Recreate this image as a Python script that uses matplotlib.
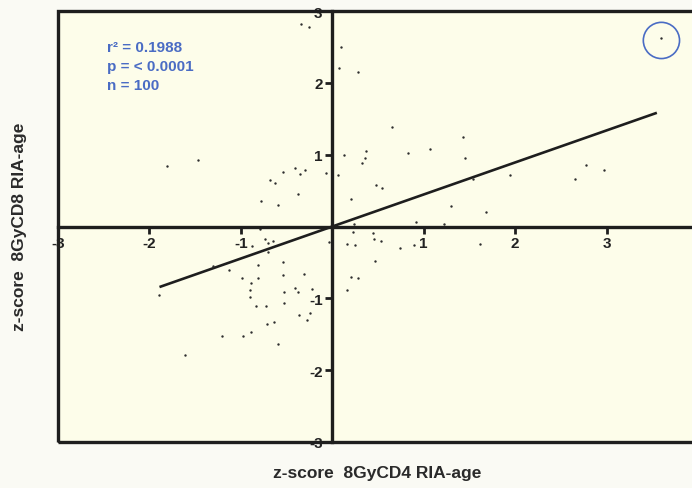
import numpy as np
import matplotlib.pyplot as plt

plt.rcParams['font.family'] = ['Liberation Sans', 'DejaVu Sans']

# z-scores for each donor (CD4 on x, CD8 on y)
cd4_z = [-1.81, -1.47, -0.54, -0.41, -0.35, -0.30, -0.07, -0.68, -0.63, -0.37,
         -0.78, -0.59, -0.34, -0.26,
         -0.79, -0.74, -0.70, -0.65, -0.88, -0.70, -0.04, -1.89, -1.30, -1.13,
         -0.99, -0.89, -0.90, -0.90, -0.81, -0.81, -0.54, -0.54, -0.31, -0.53,
         -0.41, -0.37, -0.22, -0.83, -0.73, -0.53, -0.36, -0.24, -0.28, -0.71,
         -0.64, -1.21, -0.98, -0.89, -0.59, -1.61,
         0.10, 0.07, 0.28, 0.65, 1.43, 0.13, 0.37, 0.36, 0.32, 0.83,
         1.07, 1.45, 0.06, 0.48, 0.54, 1.54, 1.94, 0.20, 1.30, 1.68,
         0.24, 0.92, 1.22, 2.65, 2.78, 2.97, 3.60,
         0.23, 0.44, 0.46, 0.53, 0.16, 0.25, 0.74, 0.89, 1.62, 0.47,
         0.20, 0.28, 0.16]
cd8_z = [0.84, 0.93, 0.76, 0.81, 0.73, 0.79, 0.75, 0.65, 0.61, 0.45,
         0.36, 0.30, 2.82, 2.78,
         -0.03, -0.17, -0.23, -0.20, -0.27, -0.35, -0.21, -0.95, -0.55, -0.61,
         -0.71, -0.78, -0.89, -0.98, -0.54, -0.71, -0.49, -0.67, -0.66, -0.91,
         -0.86, -0.91, -0.87, -1.10, -1.10, -1.07, -1.23, -1.21, -1.30, -1.36,
         -1.33, -1.53, -1.53, -1.47, -1.64, -1.79,
         2.50, 2.21, 2.15, 1.38, 1.24, 0.99, 1.05, 0.95, 0.89, 1.03,
         1.08, 0.96, 0.71, 0.58, 0.54, 0.66, 0.71, 0.38, 0.28, 0.20,
         0.04, 0.06, 0.04, 0.66, 0.85, 0.78, 2.63,
         -0.08, -0.09, -0.17, -0.20, -0.25, -0.26, -0.30, -0.26, -0.24, -0.48,
         -0.70, -0.72, -0.89]

r_squared = 0.1988
p_text = "< 0.0001"
n_donors = 100
outlier = 76  # index of the circled donor

ticks = [-3, -2, -1, 0, 1, 2, 3]
tick_labels = ['-3', '-2', '-1', '', '1', '2', '3']

x = np.array(cd4_z)
y = np.array(cd8_z)

fig = plt.figure(figsize=(6.92, 4.89), dpi=100, facecolor='#fafaf4')
ax = fig.add_axes([58 / 692, 46 / 489, 640 / 692, 431 / 489])
ax.set_facecolor('#fdfdea')

ax.set_xlim(-3, 4)
ax.set_ylim(-3, 3)

# frame around the plot
frame = plt.Rectangle((0, 0), 1, 1, transform=ax.transAxes, fill=False,
                      lw=2.4, edgecolor='#1e1e1e', clip_on=False, zorder=5)
ax.add_patch(frame)

# axes crossing at the origin
for side in ['top', 'right']:
    ax.spines[side].set_visible(False)
ax.spines['left'].set_position(('data', 0))
ax.spines['bottom'].set_position(('data', 0))
for side in ['left', 'bottom']:
    ax.spines[side].set_linewidth(2.4)
    ax.spines[side].set_color('#1e1e1e')
    ax.spines[side].set_zorder(4)

ax.set_xticks(ticks)
ax.set_xticklabels(tick_labels)
ax.set_yticks(ticks)
ax.set_yticklabels(tick_labels)
ax.tick_params(direction='out', length=5, width=2, color='#1e1e1e',
               labelsize=11, pad=2)
for lab in ax.get_xticklabels() + ax.get_yticklabels():
    lab.set_fontweight('bold')
    lab.set_color('#222222')

# regression line: slope equals r for z-scores
slope = np.sqrt(r_squared)
xl = np.array([x.min(), x.max() - 0.05])
ax.plot(xl, slope * xl, color='#1e1e1e', lw=1.9, zorder=3,
        solid_capstyle='butt')

ax.scatter(x, y, s=3, color='#2e2e2e', linewidths=0, zorder=3)
ax.scatter([x[outlier]], [y[outlier] - 0.04], s=680, facecolors='none',
           edgecolors='#4a6cc4', linewidths=1.2, zorder=3)

stats = "r\u00b2 = %.4f\np = %s\nn = %d" % (r_squared, p_text, n_donors)
ax.text((107 - 58) / 640, 1 - (41 - 12) / 431, stats, transform=ax.transAxes,
        color='#4a6cc4', fontsize=11, fontweight='bold', va='top',
        ha='left', linespacing=1.45)

fig.text(377 / 692, 1 - 474 / 489, "z-score  8GyCD4 RIA-age",
         ha='center', va='center', fontsize=12.5, fontweight='bold',
         color='#2a2a2a')
fig.text(20 / 692, 1 - 227 / 489, "z-score  8GyCD8 RIA-age",
         ha='center', va='center', rotation=90, fontsize=12.5,
         fontweight='bold', color='#2a2a2a')

fig.savefig('out.png', dpi=100, facecolor=fig.get_facecolor())
